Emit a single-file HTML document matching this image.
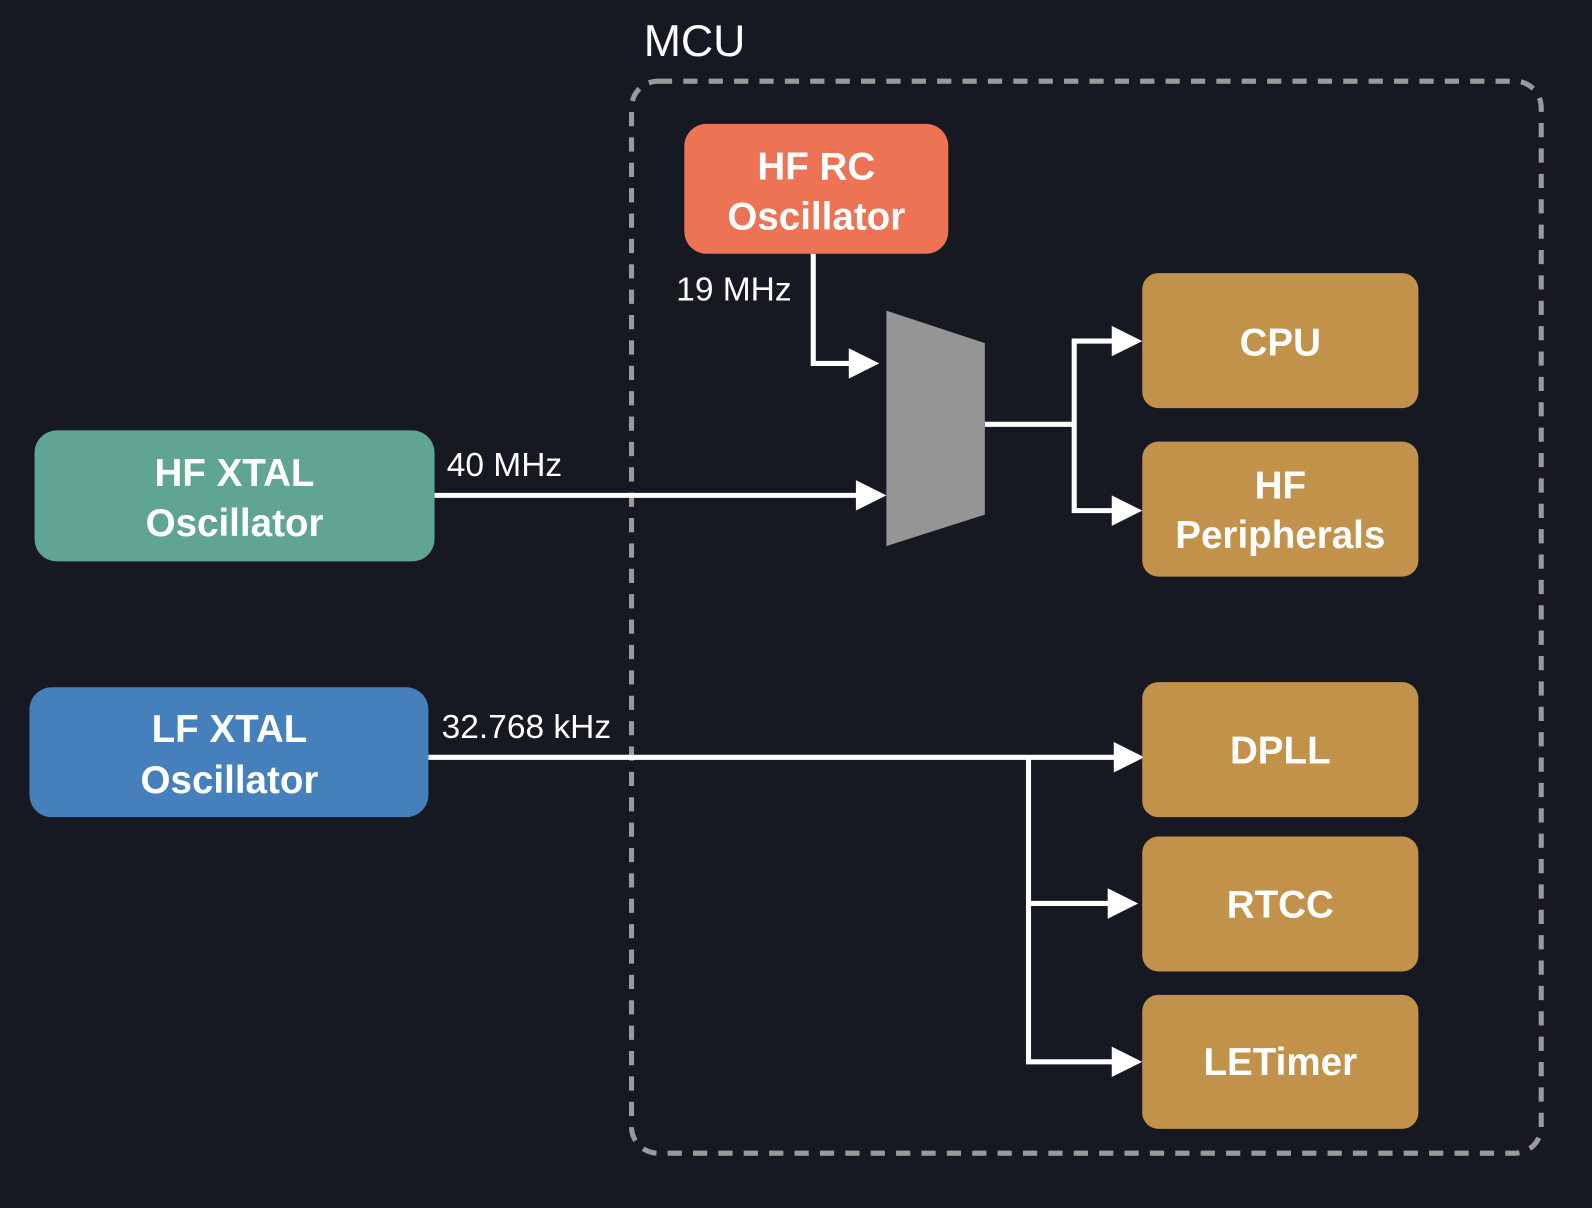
<!DOCTYPE html>
<html><head><meta charset="utf-8"><style>
html,body{margin:0;padding:0;background:#161922;}
svg{display:block;}
text{font-family:"Liberation Sans",Arial,sans-serif;fill:#fff;}
.b{font-weight:bold;font-size:38px;text-anchor:middle;}
.l{font-size:33px;}
</style></head><body>
<svg width="1592" height="1208" viewBox="0 0 1568 1190" preserveAspectRatio="none" xmlns="http://www.w3.org/2000/svg">
<rect width="1568" height="1190" fill="#161922"/>
<text x="634" y="55" style="font-size:44px">MCU</text>
<rect x="622" y="80" width="896" height="1056" rx="26" fill="none" stroke="#9a9a9a" stroke-width="5" stroke-dasharray="14 11"/>

<g stroke="#fff" stroke-width="5" fill="none">
<polyline points="801,250 801,358 840,358"/>
<line x1="428" y1="488" x2="846" y2="488"/>
<line x1="970" y1="418" x2="1058" y2="418"/>
<polyline points="1098,336 1058,336 1058,503 1098,503"/>
<line x1="422" y1="746" x2="1100" y2="746"/>
<polyline points="1013,746 1013,1046 1098,1046"/>
<line x1="1013" y1="890" x2="1094" y2="890"/>
</g>
<g fill="#fff">
<polygon points="836,343 866,358 836,373"/>
<polygon points="843,473 873,488 843,503"/>
<polygon points="1095,321 1125,336 1095,351"/>
<polygon points="1095,488 1125,503 1095,518"/>
<polygon points="1097,731 1127,746 1097,761"/>
<polygon points="1091,875 1121,890 1091,905"/>
<polygon points="1095,1031 1125,1046 1095,1061"/>
</g>
<polygon points="873,306 970,338 970,507 873,538" fill="#959595"/>

<rect x="674" y="122" width="260" height="128" rx="22" fill="#EC7354"/>
<text class="b" x="804" y="177">HF RC</text><text class="b" x="804" y="226">Oscillator</text>
<rect x="34" y="424" width="394" height="129" rx="22" fill="#5FA592"/>
<text class="b" x="231" y="479">HF XTAL</text><text class="b" x="231" y="528">Oscillator</text>
<rect x="29" y="677" width="393" height="128" rx="22" fill="#4580BC"/>
<text class="b" x="226" y="731">LF XTAL</text><text class="b" x="226" y="781">Oscillator</text>

<g fill="#C3924A">
<rect x="1125" y="269" width="272" height="133" rx="16"/>
<rect x="1125" y="435" width="272" height="133" rx="16"/>
<rect x="1125" y="672" width="272" height="133" rx="16"/>
<rect x="1125" y="824" width="272" height="133" rx="16"/>
<rect x="1125" y="980" width="272" height="132" rx="16"/>
</g>
<text class="b" x="1261" y="350">CPU</text>
<text class="b" x="1261" y="491">HF</text><text class="b" x="1261" y="540">Peripherals</text>
<text class="b" x="1261" y="752">DPLL</text>
<text class="b" x="1261" y="904">RTCC</text>
<text class="b" x="1261" y="1059">LETimer</text>

<text class="l" x="666" y="296">19 MHz</text>
<text class="l" x="440" y="469">40 MHz</text>
<text class="l" x="435" y="727">32.768 kHz</text>
</svg>
</body></html>
